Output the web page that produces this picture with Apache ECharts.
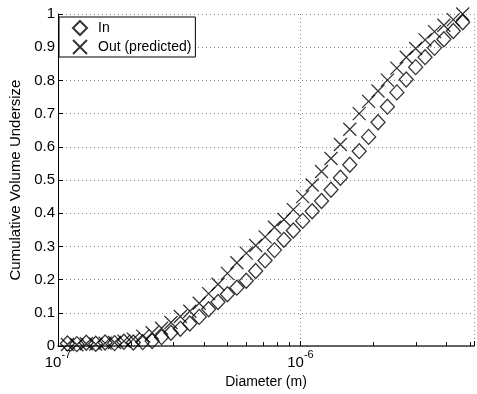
<!DOCTYPE html>
<html><head><meta charset="utf-8">
<script src="https://cdn.jsdelivr.net/npm/echarts@6/dist/echarts.min.js"></script>
<style>html,body{margin:0;padding:0;background:#fff}#c{width:477px;height:394px}</style>
</head><body><div id="c"></div>
<script>
// Diameters (m)
const diameters = [1.094e-7,1.196e-7,1.308e-7,1.431e-7,1.564e-7,1.711e-7,1.870e-7,2.045e-7,2.236e-7,2.445e-7,
  2.674e-7,2.924e-7,3.197e-7,3.497e-7,3.824e-7,4.181e-7,4.572e-7,4.999e-7,5.468e-7,5.979e-7,
  6.538e-7,7.149e-7,7.816e-7,8.549e-7,9.348e-7,1.022e-6,1.118e-6,1.222e-6,1.337e-6,1.462e-6,
  1.598e-6,1.748e-6,1.911e-6,2.090e-6,2.285e-6,2.499e-6,2.732e-6,2.988e-6,3.267e-6,3.573e-6,
  3.906e-6,4.272e-6,4.671e-6];
const inValues = [0.008,0.006,0.010,0.007,0.011,0.009,0.013,0.011,0.012,0.015,
  0.027,0.040,0.052,0.068,0.088,0.111,0.133,0.156,0.176,0.197,
  0.226,0.258,0.289,0.320,0.348,0.377,0.406,0.437,0.471,0.507,
  0.546,0.587,0.630,0.674,0.721,0.764,0.803,0.840,0.870,0.898,
  0.924,0.949,0.975];
const outValues = [0.005,0.004,0.007,0.006,0.009,0.011,0.015,0.021,0.030,0.040,
  0.054,0.071,0.089,0.105,0.129,0.158,0.186,0.219,0.251,0.280,
  0.303,0.329,0.358,0.381,0.411,0.450,0.485,0.526,0.565,0.607,
  0.653,0.700,0.737,0.768,0.801,0.837,0.870,0.896,0.922,0.947,
  0.966,0.983,1.000];
const minorXGrid = [2e-7,3e-7,4e-7,5e-7,6e-7,7e-7,8e-7,9e-7,2e-6,3e-6,4e-6,5e-6];
const xMin = 1e-7, xMax = 5.2e-6;
const yMin = 0, yMax = 1, yStep = 0.1;

const FONT = '"Liberation Sans", Arial, Helvetica, sans-serif';
const crossPath = 'path://M0,0L10,10M10,0L0,10';

const chart = echarts.init(document.getElementById('c'), null, {renderer: 'canvas'});
const minorLines = minorXGrid.map(v => ({xAxis: v}));
const minorTicks = minorXGrid.map(v => [{coord: [v, 0]}, {coord: [v, 0.012]}]);

chart.setOption({
  animation: false,
  backgroundColor: '#fff',
  textStyle: {fontFamily: FONT},
  grid: {left: 54, right: -4, top: 14, bottom: 46},
  legend: {
    orient: 'vertical', left: 59, top: 17,
    backgroundColor: '#fff', borderColor: '#000', borderWidth: 1,
    padding: [3, 4, 2, 13], itemGap: 3, itemWidth: 14, itemHeight: 14,
    textStyle: {fontSize: 14, color: '#000', fontFamily: FONT, padding: [0, 0, 0, 6]},
    data: [{name: 'In', icon: 'diamond'}, {name: 'Out (predicted)', icon: crossPath}]
  },
  xAxis: {
    type: 'log', logBase: 10, min: xMin, max: xMax,
    name: 'Diameter (m)', nameLocation: 'middle', nameGap: 22,
    nameTextStyle: {fontSize: 14, color: '#000', fontFamily: FONT},
    axisLine: {show: true, lineStyle: {color: '#333', width: 1.5}},
    axisTick: {show: true, inside: true, length: 5, lineStyle: {color: '#000'}},
    splitLine: {show: true, lineStyle: {type: [1, 3], color: '#888', width: 1}},
    axisLabel: {
      margin: 3, color: '#000',
      formatter: function (v) {
        const e = Math.round(Math.log10(v));
        if (Math.abs(v / Math.pow(10, e) - 1) < 1e-6) return '{b|10}{s|' + e + '}';
        return '';
      },
      rich: {
        b: {fontSize: 15, fontFamily: FONT, color: '#000', verticalAlign: 'bottom', lineHeight: 21},
        s: {fontSize: 11, fontFamily: FONT, color: '#000', verticalAlign: 'top', lineHeight: 11}
      }
    }
  },
  yAxis: {
    type: 'value', min: yMin, max: yMax, interval: yStep,
    name: 'Cumulative Volume Undersize', nameLocation: 'middle', nameGap: 35,
    nameTextStyle: {fontSize: 15, color: '#000', fontFamily: FONT},
    axisLine: {show: true, lineStyle: {color: '#000', width: 1}},
    axisTick: {show: true, inside: true, length: 5, lineStyle: {color: '#000'}},
    splitLine: {show: true, lineStyle: {type: [1, 3], color: '#888', width: 1}},
    axisLabel: {margin: 3, fontSize: 15, color: '#000', fontFamily: FONT,
      formatter: v => (Math.round(v * 10) / 10).toString()}
  },
  series: [
    {
      name: 'In', type: 'scatter', symbol: 'diamond', symbolSize: [14, 15],
      data: diameters.map((d, i) => [d, inValues[i]]),
      itemStyle: {color: 'rgba(0,0,0,0)', borderColor: '#000', borderWidth: 1.3},
      emphasis: {disabled: true},
      markLine: {
        silent: true, symbol: ['none', 'none'], label: {show: false},
        lineStyle: {type: [1, 3], color: '#888', width: 1},
        emphasis: {disabled: true},
        data: minorLines
      },
      z: 3
    },
    {
      name: 'Out (predicted)', type: 'scatter', symbol: crossPath, symbolSize: 13,
      data: diameters.map((d, i) => [d, outValues[i]]),
      itemStyle: {color: 'rgba(0,0,0,0)', borderColor: '#000', borderWidth: 1.3},
      emphasis: {disabled: true},
      markLine: {
        silent: true, symbol: ['none', 'none'], label: {show: false},
        lineStyle: {type: 'solid', color: '#000', width: 1},
        emphasis: {disabled: true},
        data: minorTicks
      },
      z: 4
    }
  ]
});
</script></body></html>
